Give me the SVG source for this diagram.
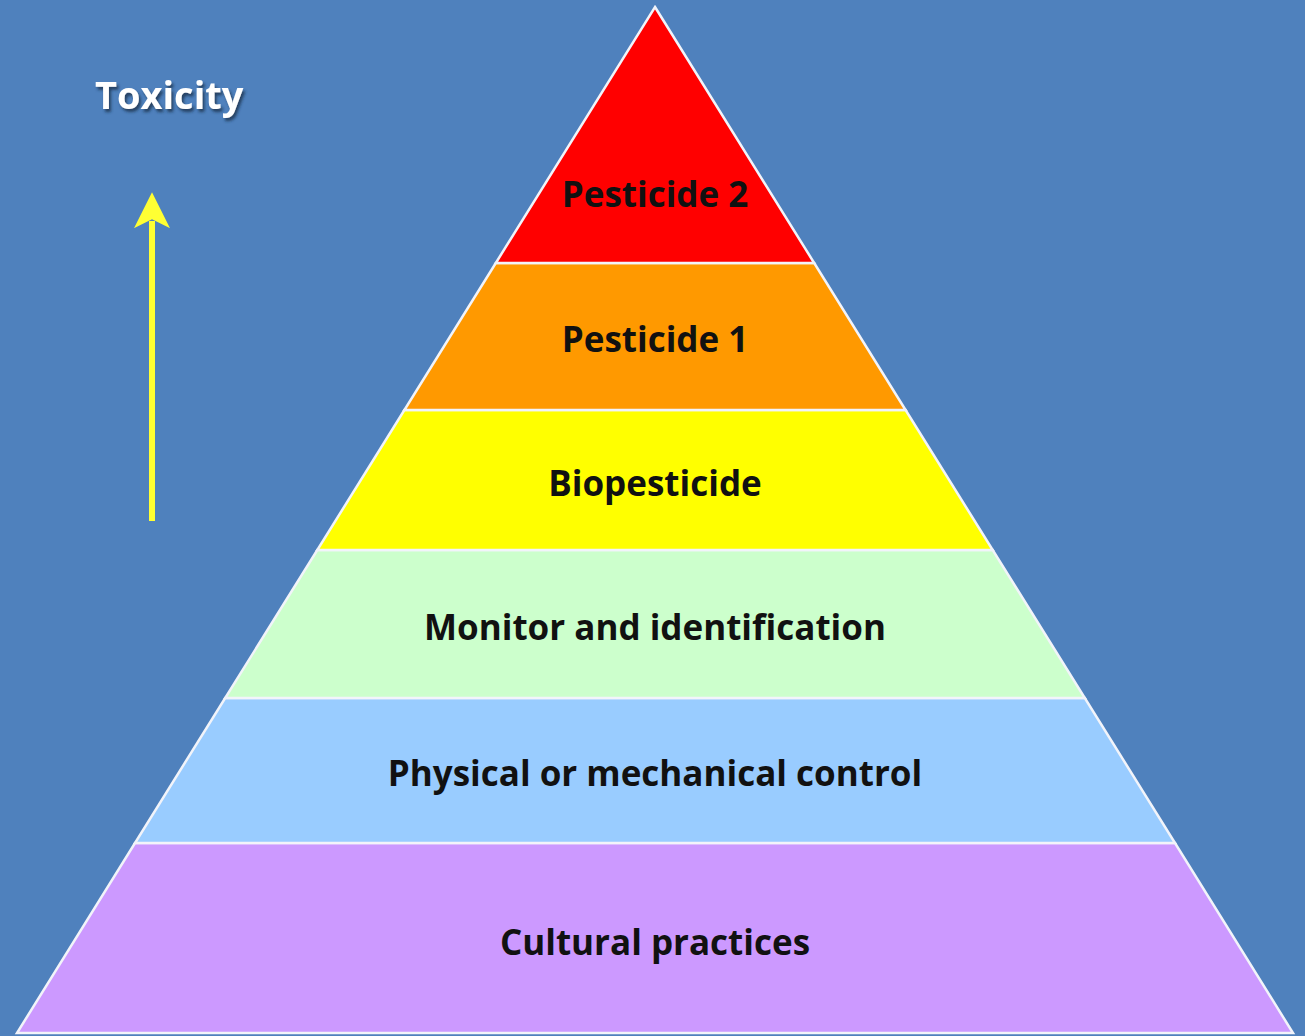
<svg xmlns="http://www.w3.org/2000/svg" width="1305" height="1036" viewBox="0 0 1305 1036">
  <style>
    .tier { stroke: #f2f4fa; stroke-width: 2.5; stroke-linejoin: miter; }
    .label { font-family: "Open Sans", "Liberation Sans", sans-serif; font-weight: 700; font-size: 35px; fill: #111111; text-anchor: middle; dominant-baseline: central; }
    .axis { font-family: "Open Sans", "Liberation Sans", sans-serif; font-weight: 700; font-size: 38px; fill: #ffffff; }
  </style>
  <defs>
    <filter id="shadow" x="-10%" y="-30%" width="130%" height="170%">
      <feDropShadow dx="2" dy="3" stdDeviation="1.5" flood-color="#1c2e4a" flood-opacity="0.8"/>
    </filter>
    <marker id="arrowhead" viewBox="0 0 10 10" refX="2" refY="5" markerWidth="6" markerHeight="6" orient="auto" markerUnits="strokeWidth">
      <path d="M0,0 L10,5 L0,10 L2.5,5 Z" fill="#ffff33"/>
    </marker>
  </defs>

  <!-- background -->
  <rect width="1305" height="1036" fill="#4f81bd"/>

  <!-- axis label and arrow -->
  <g id="toxicity">
    <text class="axis" x="95" y="109" filter="url(#shadow)">Toxicity</text>
  </g>
  <g id="connectors">
    <line x1="152" y1="521" x2="152" y2="221" stroke="#ffff33" stroke-width="6" marker-end="url(#arrowhead)"/>
  </g>

  <!-- pyramid tiers, bottom to top -->
  <g id="tier-cultural">
    <polygon class="tier" points="135,843 1175,843 1293,1033 17,1033" fill="#cc99ff"/>
    <text class="label" x="655" y="941">Cultural practices</text>
  </g>
  <g id="tier-physical">
    <polygon class="tier" points="225.2,698 1084.8,698 1175,843 135,843" fill="#99ccff"/>
    <text class="label" x="655" y="772">Physical or mechanical control</text>
  </g>
  <g id="tier-monitor">
    <polygon class="tier" points="317.3,550 992.7,550 1084.8,698 225.2,698" fill="#ccffcc"/>
    <text class="label" x="655" y="626">Monitor and identification</text>
  </g>
  <g id="tier-biopesticide">
    <polygon class="tier" points="404.4,410 905.6,410 992.7,550 317.3,550" fill="#ffff00"/>
    <text class="label" x="655" y="482">Biopesticide</text>
  </g>
  <g id="tier-pesticide1">
    <polygon class="tier" points="495.8,263 814.2,263 905.6,410 404.4,410" fill="#ff9900"/>
    <text class="label" x="655" y="338">Pesticide 1</text>
  </g>
  <g id="tier-pesticide2">
    <polygon class="tier" points="655,7 814.2,263 495.8,263" fill="#ff0000"/>
    <text class="label" x="655" y="193">Pesticide 2</text>
  </g>
</svg>
